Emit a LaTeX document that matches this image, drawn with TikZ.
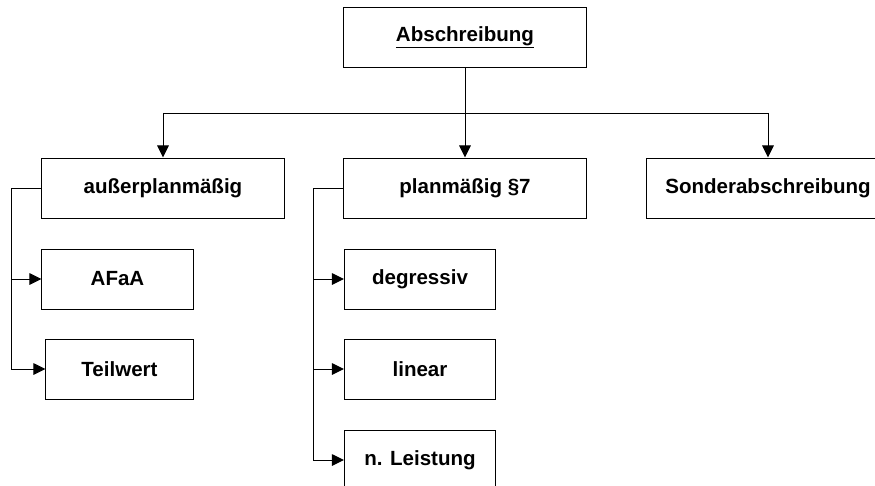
\documentclass[tikz,border=0pt]{standalone}
\usepackage{fontspec}
\setmainfont{Liberation Sans}
\usetikzlibrary{arrows.meta}
\begin{document}
\begin{tikzpicture}[x=0.025cm,y=-0.025cm,
  font=\fontsize{14.6}{17}\selectfont\bfseries,
  bigbox/.style={draw,line width=0.7pt,minimum width=6.05cm,minimum height=1.5cm,inner sep=0pt},
  smallbox/.style={draw,line width=0.7pt,minimum width=3.78cm,minimum height=1.5cm,inner sep=0pt},
  conn/.style={line width=0.7pt},
  arr/.style={line width=0.7pt,-{Triangle[length=3mm,width=2.9mm]}}]
\clip (0,0) rectangle (875,486);
% boxes
\node[bigbox] (top) at (465,37.5) {\underline{Abschreibung}};
\node[bigbox] (ausser) at (163,188) {außerplanmäßig};
\node[bigbox] (plan) at (465,188) {planmäßig §7};
\node[bigbox] (sonder) at (768,188) {Sonderabschreibung};
\node[smallbox] (afaa) at (117.5,279) {AFaA};
\node[smallbox,minimum width=3.68cm] (teilwert) at (119.5,369) {Teilwert};
\node[smallbox] (degr) at (420,279) {degressiv};
\node[smallbox] (linear) at (420,369) {linear};
\node[smallbox] (nleist) at (420,460) {n. Leistung};
% top level
\coordinate (busL) at (ausser.north |- 0,113);
\coordinate (busR) at (sonder.north |- 0,113);
\draw[conn] (top.south) -- (top.south |- busL);
\draw[conn] (busL) -- (busR);
\draw[arr] (busL) -- (ausser.north);
\draw[arr] (top.south) -- (plan.north);
\draw[arr] (busR) -- (sonder.north);
% außerplanmäßig
\draw[arr] (ausser.west) -- ++(-30,0) |- (afaa.west);
\draw[arr] (ausser.west) -- ++(-30,0) |- (teilwert.west);
% planmäßig
\draw[arr] (plan.west) -- ++(-30,0) |- (degr.west);
\draw[arr] (plan.west) -- ++(-30,0) |- (linear.west);
\draw[arr] (plan.west) -- ++(-30,0) |- (nleist.west);
\end{tikzpicture}
\end{document}
